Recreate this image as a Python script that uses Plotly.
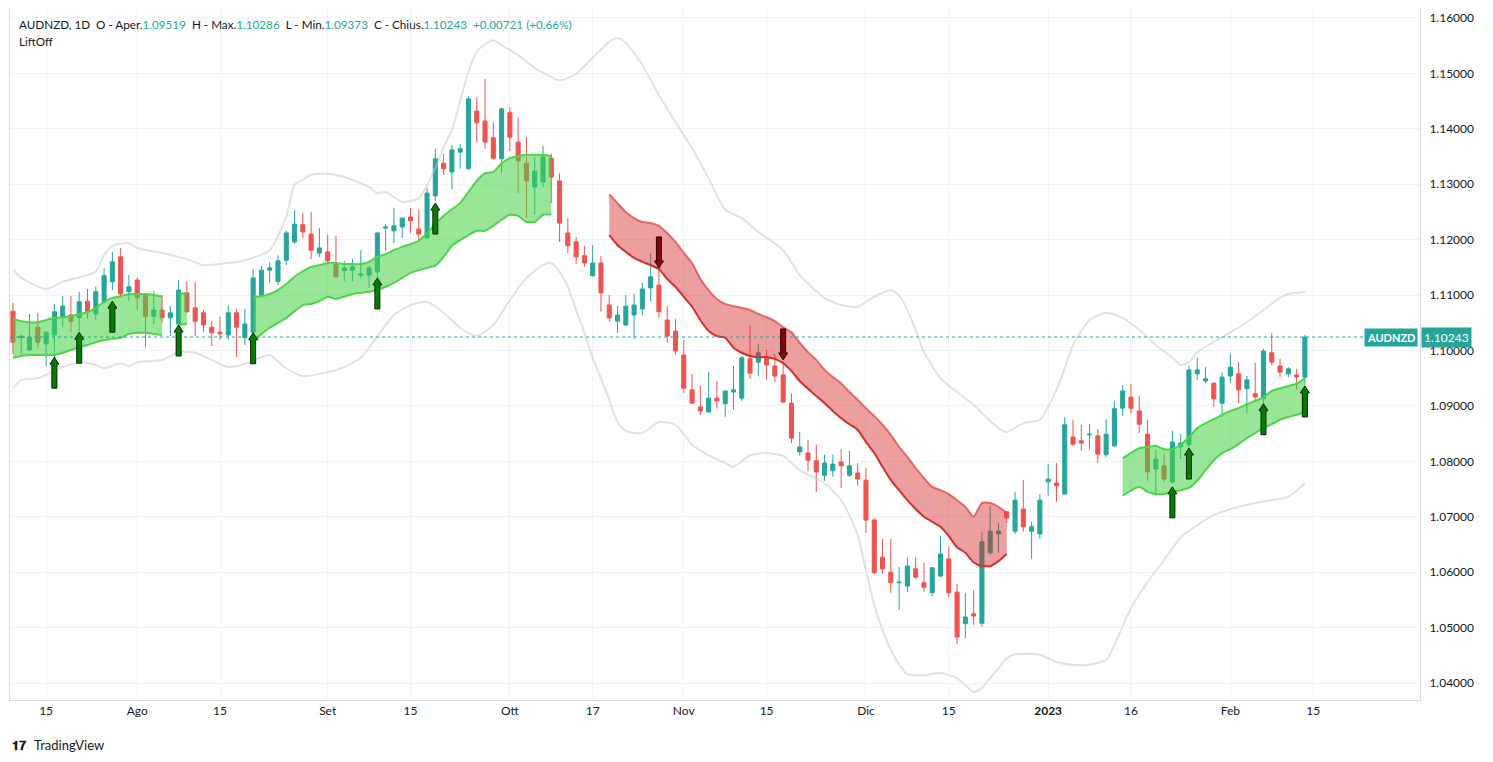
import numpy as np
import pandas as pd
import plotly.graph_objects as go

symbol = "AUDNZD"
start_date = "2022-07-11"

opens = [
    1.1071, 1.1023, 1.1001, 1.1042, 1.1012, 1.1028, 1.1061, 1.1064, 1.1059, 1.1089,
    1.1066, 1.1088, 1.1124, 1.1169, 1.1106, 1.1127, 1.1100, 1.1062, 1.1073, 1.1059,
    1.1048, 1.1104, 1.1077, 1.1068, 1.1042, 1.1033, 1.1028, 1.1068, 1.1023, 1.1033,
    1.1100, 1.1145, 1.1125, 1.1163, 1.1196, 1.1227, 1.1210, 1.1176, 1.1178, 1.1158,
    1.1144, 1.1145, 1.1136, 1.1136, 1.1142, 1.1221, 1.1216, 1.1223, 1.1241, 1.1219,
    1.1203, 1.1279, 1.1338, 1.1322, 1.1358, 1.1328, 1.1432, 1.1414, 1.1384, 1.1346,
    1.1429, 1.1376, 1.1338, 1.1295, 1.1304, 1.1347, 1.1306, 1.1212, 1.1196, 1.1171,
    1.1135, 1.1158, 1.1082, 1.1053, 1.1046, 1.1064, 1.1075, 1.1113, 1.1118, 1.1055,
    1.1035, 1.0992, 1.0929, 1.0898, 1.0889, 1.0914, 1.0904, 1.0925, 1.0914, 1.0985,
    1.0979, 1.0987, 1.0972, 1.0956, 1.0905, 1.0817, 1.0815, 1.0801, 1.0775, 1.0783,
    1.0799, 1.0775, 1.0779, 1.0766, 1.0694, 1.0627, 1.0600, 1.0581, 1.0575, 1.0606,
    1.0581, 1.0563, 1.0593, 1.0624, 1.0564, 1.0507, 1.0525, 1.0508, 1.0635, 1.0669,
    1.0709, 1.0674, 1.0714, 1.0674, 1.0669, 1.0763, 1.0761, 1.0741, 1.0844, 1.0837,
    1.0848, 1.0846, 1.0812, 1.0828, 1.0896, 1.0916, 1.0891, 1.0849, 1.0786, 1.0792,
    1.0763, 1.0826, 1.0830, 1.0958, 1.0945, 1.0941, 1.0905, 1.0954, 1.0958, 1.0931,
    1.0922, 1.0913, 1.0996, 1.0972, 1.0958, 1.0956, 1.09519]

highs = [
    1.1086, 1.1028, 1.1066, 1.1068, 1.1035, 1.1084, 1.1098, 1.1098, 1.1106, 1.1111,
    1.1115, 1.1149, 1.1178, 1.1185, 1.1136, 1.1131, 1.1102, 1.1107, 1.1100, 1.1080,
    1.1127, 1.1124, 1.1124, 1.1073, 1.1053, 1.1061, 1.1082, 1.1075, 1.1075, 1.1147,
    1.1153, 1.1160, 1.1172, 1.1216, 1.1254, 1.1248, 1.1250, 1.1221, 1.1209, 1.1207,
    1.1162, 1.1165, 1.1181, 1.1154, 1.1214, 1.1228, 1.1257, 1.1240, 1.1257, 1.1254,
    1.1293, 1.1364, 1.1355, 1.1371, 1.1373, 1.1459, 1.1456, 1.1490, 1.1412, 1.1438,
    1.1439, 1.1420, 1.1385, 1.1349, 1.1369, 1.1355, 1.1320, 1.1239, 1.1205, 1.1189,
    1.1190, 1.1171, 1.1100, 1.1080, 1.1100, 1.1102, 1.1122, 1.1176, 1.1149, 1.1080,
    1.1057, 1.1019, 1.0958, 1.0936, 1.0961, 1.0945, 1.0927, 1.0972, 1.0990, 1.1046,
    1.1012, 1.1001, 1.0994, 1.0981, 1.0922, 1.0853, 1.0839, 1.0830, 1.0812, 1.0812,
    1.0822, 1.0819, 1.0797, 1.0788, 1.0698, 1.0660, 1.0660, 1.0609, 1.0626, 1.0627,
    1.0617, 1.0609, 1.0665, 1.0646, 1.0579, 1.0563, 1.0568, 1.0673, 1.0719, 1.0689,
    1.0710, 1.0745, 1.0766, 1.0691, 1.0741, 1.0795, 1.0797, 1.0880, 1.0875, 1.0866,
    1.0867, 1.0858, 1.0876, 1.0909, 1.0938, 1.0940, 1.0918, 1.0875, 1.0821, 1.0813,
    1.0855, 1.0849, 1.0972, 1.0987, 1.0970, 1.0942, 1.0961, 1.0994, 1.0979, 1.0954,
    1.0978, 1.1003, 1.1032, 1.0985, 1.0970, 1.0967, 1.10286]

lows = [
    1.0994, 1.0994, 1.0999, 1.1005, 1.0972, 1.0988, 1.1042, 1.1033, 1.1035, 1.1057,
    1.1055, 1.1085, 1.1109, 1.1095, 1.1089, 1.1073, 1.1006, 1.1048, 1.1050, 1.1026,
    1.1046, 1.1068, 1.1026, 1.1033, 1.1008, 1.1019, 1.1019, 1.0988, 1.1010, 1.1032,
    1.1097, 1.1122, 1.1118, 1.1154, 1.1192, 1.1203, 1.1165, 1.1169, 1.1158, 1.1131,
    1.1125, 1.1125, 1.1131, 1.1113, 1.1131, 1.1180, 1.1194, 1.1203, 1.1212, 1.1198,
    1.1201, 1.1270, 1.1317, 1.1291, 1.1328, 1.1326, 1.1376, 1.1364, 1.1344, 1.1320,
    1.1360, 1.1284, 1.1239, 1.1245, 1.1295, 1.1266, 1.1196, 1.1176, 1.1156, 1.1151,
    1.1133, 1.1070, 1.1052, 1.1032, 1.1044, 1.1021, 1.1064, 1.1089, 1.1059, 1.1014,
    1.0992, 1.0923, 1.0904, 1.0884, 1.0888, 1.0895, 1.0880, 1.0893, 1.0909, 1.0949,
    1.0954, 1.0947, 1.0943, 1.0905, 1.0833, 1.0810, 1.0783, 1.0745, 1.0765, 1.0772,
    1.0752, 1.0772, 1.0756, 1.0671, 1.0597, 1.0597, 1.0563, 1.0532, 1.0564, 1.0588,
    1.0564, 1.0557, 1.0591, 1.0555, 1.0470, 1.0481, 1.0505, 1.0501, 1.0631, 1.0635,
    1.0689, 1.0669, 1.0673, 1.0624, 1.0660, 1.0738, 1.0727, 1.0741, 1.0828, 1.0819,
    1.0821, 1.0797, 1.0808, 1.0826, 1.0882, 1.0886, 1.0851, 1.0765, 1.0738, 1.0763,
    1.0759, 1.0804, 1.0824, 1.0947, 1.0941, 1.0898, 1.0880, 1.0941, 1.0905, 1.0886,
    1.0911, 1.0905, 1.0974, 1.0952, 1.0952, 1.0929, 1.09373]

closes = [
    1.1015, 1.1026, 1.1024, 1.1015, 1.1033, 1.1070, 1.1080, 1.1053, 1.1088, 1.1071,
    1.1106, 1.1135, 1.1160, 1.1102, 1.1115, 1.1095, 1.1061, 1.1073, 1.1059, 1.1068,
    1.1109, 1.1070, 1.1053, 1.1046, 1.1032, 1.1030, 1.1068, 1.1042, 1.1048, 1.1131,
    1.1145, 1.1149, 1.1162, 1.1212, 1.1228, 1.1214, 1.1181, 1.1185, 1.1162, 1.1133,
    1.1149, 1.1151, 1.1138, 1.1149, 1.1212, 1.1223, 1.1225, 1.1239, 1.1234, 1.1210,
    1.1284, 1.1346, 1.1328, 1.1362, 1.1364, 1.1454, 1.1411, 1.1376, 1.1347, 1.1436,
    1.1385, 1.1342, 1.1306, 1.1324, 1.1349, 1.1313, 1.1230, 1.1189, 1.1169, 1.1158,
    1.1158, 1.1104, 1.1059, 1.1064, 1.1080, 1.1082, 1.1111, 1.1133, 1.1070, 1.1026,
    1.0999, 1.0932, 1.0905, 1.0891, 1.0914, 1.0909, 1.0927, 1.0929, 1.0987, 1.0959,
    1.0996, 1.0974, 1.0954, 1.0907, 1.0842, 1.0826, 1.0802, 1.0781, 1.0797, 1.0795,
    1.0792, 1.0792, 1.0768, 1.0694, 1.0599, 1.0606, 1.0581, 1.0582, 1.0611, 1.0591,
    1.0573, 1.0608, 1.0633, 1.0563, 1.0483, 1.0519, 1.0521, 1.0655, 1.0674, 1.0674,
    1.0698, 1.0730, 1.0682, 1.0682, 1.0730, 1.0768, 1.0756, 1.0866, 1.0831, 1.0833,
    1.0849, 1.0813, 1.0849, 1.0895, 1.0927, 1.0896, 1.0867, 1.0781, 1.0804, 1.0768,
    1.0835, 1.0833, 1.0965, 1.0965, 1.0949, 1.0913, 1.0952, 1.0970, 1.0929, 1.0947,
    1.0916, 1.0999, 1.0979, 1.0961, 1.0967, 1.09522, 1.10243]

# Bollinger-style envelope (grey) at given bar indices
bb_up_idx = [0, 1, 4, 6, 9, 10, 11, 12, 14, 15, 18, 20, 22, 23, 26, 28, 31, 33, 34, 35,
             36, 38, 40, 43, 44, 45, 47, 49, 51, 52, 53, 55, 56, 57, 58, 59, 61, 63, 66, 68,
             70, 72, 73, 74, 76, 78, 80, 82, 84, 86, 88, 90, 93, 95, 98, 100, 102, 104, 106, 107,
             108, 109, 110, 112, 114, 116, 117, 119, 120, 122, 124, 126, 127, 128, 130, 132, 134, 136, 138, 140,
             141, 142, 143, 146, 149, 151, 153, 154, 156]
bb_up = [1.1147, 1.1131, 1.1111, 1.1124, 1.1136, 1.1142, 1.1172, 1.1189, 1.1194, 1.1185,
         1.1176, 1.1169, 1.1160, 1.1154, 1.1158, 1.1163, 1.1181, 1.1241, 1.1299, 1.1308,
         1.1317, 1.1319, 1.1313, 1.1295, 1.1284, 1.1286, 1.1268, 1.1275, 1.1329, 1.1367,
         1.1398, 1.1503, 1.1539, 1.1553, 1.1560, 1.1551, 1.1533, 1.1510, 1.1488, 1.1499,
         1.1528, 1.1557, 1.1564, 1.1555, 1.1515, 1.1461, 1.1412, 1.1365, 1.1311, 1.1254,
         1.1239, 1.1214, 1.1181, 1.1136, 1.1095, 1.1082, 1.1079, 1.1097, 1.1109, 1.1100,
         1.1073, 1.1037, 1.0997, 1.0950, 1.0925, 1.0902, 1.0887, 1.0860, 1.0853, 1.0869,
         1.0875, 1.0929, 1.0968, 1.1010, 1.1055, 1.1068, 1.1059, 1.1037, 1.1010, 1.0987,
         1.0974, 1.0979, 1.0997, 1.1024, 1.1051, 1.1073, 1.1095, 1.1102, 1.1106]

bb_lo_idx = [0, 1, 3, 6, 8, 10, 11, 13, 14, 15, 18, 20, 22, 24, 26, 28, 30, 31, 33, 35,
             38, 40, 42, 43, 46, 48, 50, 52, 54, 56, 58, 60, 62, 64, 65, 66, 67, 68, 69, 70,
             71, 72, 73, 74, 76, 78, 80, 82, 84, 86, 87, 89, 91, 93, 95, 98, 100, 101, 102, 103,
             104, 105, 106, 107, 108, 110, 112, 114, 115, 116, 117, 118, 119, 120, 121, 124, 126, 128, 130, 132,
             133, 135, 137, 139, 141, 143, 145, 148, 151, 154, 156]
bb_lo = [1.0932, 1.0947, 1.0950, 1.0970, 1.0979, 1.0974, 1.0968, 1.0977, 1.0972, 1.0979,
         1.0983, 1.0997, 1.0996, 1.0983, 1.0970, 1.0976, 1.0988, 1.0992, 1.0968, 1.0954,
         1.0961, 1.0970, 1.0987, 1.1005, 1.1064, 1.1082, 1.1088, 1.1068, 1.1041, 1.1026,
         1.1046, 1.1091, 1.1131, 1.1154, 1.1158, 1.1142, 1.1115, 1.1073, 1.1032, 1.0987,
         1.0950, 1.0911, 1.0871, 1.0855, 1.0851, 1.0871, 1.0866, 1.0830, 1.0811, 1.0797,
         1.0790, 1.0811, 1.0815, 1.0810, 1.0784, 1.0761, 1.0730, 1.0703, 1.0667, 1.0604,
         1.0541, 1.0496, 1.0460, 1.0434, 1.0416, 1.0414, 1.0418, 1.0409, 1.0396, 1.0384,
         1.0391, 1.0409, 1.0427, 1.0445, 1.0452, 1.0451, 1.0438, 1.0433, 1.0433, 1.0442,
         1.0469, 1.0535, 1.0582, 1.0622, 1.0663, 1.0685, 1.0703, 1.0718, 1.0728, 1.0736,
         1.0761]

# LiftOff channel segments: first bar index, upper edge, lower edge
lift_g1_start = 0
lift_g1_up = [1.1057, 1.1053, 1.1051, 1.1051, 1.1055, 1.1059, 1.1060, 1.1062, 1.1066, 1.1069,
              1.1077, 1.1088, 1.1095, 1.1098, 1.1102, 1.1102, 1.1102, 1.1100, 1.1097]
lift_g1_lo = [1.0987, 1.0990, 1.0992, 1.0992, 1.0992, 1.0992, 1.0996, 1.1001, 1.1006, 1.1010,
              1.1015, 1.1019, 1.1021, 1.1023, 1.1030, 1.1032, 1.1032, 1.1030, 1.1028]
lift_g1b_start = 20
lift_g1b_up = [1.1102, 1.1104]
lift_g1b_lo = [1.1046, 1.1048]
lift_g2_start = 29
lift_g2_up = [1.1097, 1.1098, 1.1102, 1.1109, 1.1120, 1.1133, 1.1143, 1.1151, 1.1154, 1.1158,
              1.1158, 1.1156, 1.1156, 1.1156, 1.1160, 1.1169, 1.1174, 1.1181, 1.1187, 1.1192,
              1.1198, 1.1212, 1.1228, 1.1243, 1.1255, 1.1266, 1.1286, 1.1306, 1.1320, 1.1322,
              1.1338, 1.1347, 1.1351, 1.1353, 1.1353, 1.1353, 1.1351]
lift_g2_lo = [1.1015, 1.1030, 1.1041, 1.1050, 1.1059, 1.1071, 1.1082, 1.1084, 1.1089, 1.1097,
              1.1093, 1.1097, 1.1102, 1.1104, 1.1106, 1.1109, 1.1115, 1.1122, 1.1131, 1.1140,
              1.1145, 1.1149, 1.1153, 1.1169, 1.1189, 1.1199, 1.1208, 1.1216, 1.1216, 1.1225,
              1.1236, 1.1245, 1.1243, 1.1232, 1.1232, 1.1245, 1.1246]
lift_r1_start = 72
lift_r1_up = [1.1282, 1.1266, 1.1250, 1.1239, 1.1232, 1.1230, 1.1225, 1.1212, 1.1196, 1.1176,
              1.1158, 1.1129, 1.1109, 1.1093, 1.1084, 1.1080, 1.1077, 1.1073, 1.1066, 1.1060,
              1.1053, 1.1042, 1.1033, 1.1014, 1.0997, 1.0983, 1.0965, 1.0952, 1.0941, 1.0925,
              1.0911, 1.0896, 1.0882, 1.0866, 1.0848, 1.0826, 1.0808, 1.0788, 1.0770, 1.0754,
              1.0748, 1.0741, 1.0730, 1.0718, 1.0700, 1.0725, 1.0725, 1.0718, 1.0707]
lift_r1_lo = [1.1208, 1.1190, 1.1178, 1.1167, 1.1160, 1.1154, 1.1147, 1.1129, 1.1115, 1.1097,
              1.1079, 1.1055, 1.1035, 1.1026, 1.1023, 1.1005, 1.0996, 1.0990, 1.0988, 1.0988,
              1.0985, 1.0977, 1.0963, 1.0945, 1.0931, 1.0918, 1.0905, 1.0891, 1.0878, 1.0867,
              1.0857, 1.0835, 1.0815, 1.0790, 1.0766, 1.0748, 1.0730, 1.0714, 1.0700, 1.0691,
              1.0682, 1.0665, 1.0645, 1.0635, 1.0618, 1.0611, 1.0611, 1.0620, 1.0633]
lift_g3_start = 134
lift_g3_up = [1.0806, 1.0815, 1.0824, 1.0826, 1.0828, 1.0822, 1.0822, 1.0830, 1.0844, 1.0860,
              1.0869, 1.0876, 1.0884, 1.0891, 1.0896, 1.0903, 1.0909, 1.0916, 1.0927, 1.0932,
              1.0936, 1.0940, 1.0950]
lift_g3_lo = [1.0738, 1.0747, 1.0754, 1.0745, 1.0741, 1.0741, 1.0745, 1.0748, 1.0752, 1.0765,
              1.0784, 1.0802, 1.0815, 1.0822, 1.0831, 1.0842, 1.0851, 1.0860, 1.0867, 1.0875,
              1.0880, 1.0884, 1.0889]

# Signal arrows: bar index and price of the arrow tip
up_arrow_idx = [5, 8, 12, 20, 29, 44, 51, 140, 142, 151, 156]
up_arrow_tip = [1.0988, 1.1033, 1.1089, 1.1046, 1.1032, 1.1131, 1.1266, 1.0754, 1.0824, 1.0904, 1.0936]
down_arrow_idx = [78, 93]
down_arrow_tip = [1.1149, 1.0983]

tick_dates = ["2022-07-15", "2022-08-01", "2022-08-15", "2022-09-01", "2022-09-15",
              "2022-10-03", "2022-10-17", "2022-11-01", "2022-11-15", "2022-12-01",
              "2022-12-15", "2023-01-02", "2023-01-16", "2023-02-01", "2023-02-15"]
tick_labels = ["15", "Ago", "15", "Set", "15", "Ott", "17", "Nov", "15", "Dic",
               "15", "<b>2023</b>", "16", "Feb", "15"]

# ------------------------------------------------------------------
UP_COL = "#26a69a"
DN_COL = "#ef5350"
TXT = "#131722"
GRID = "#f0f3fa"
FONT = "Lato, Noto Sans, sans-serif"

n = len(closes)
xs = list(range(n))
tick_pos = [int(np.busday_count(start_date, d)) for d in tick_dates]

fig = go.Figure()

band_line = dict(color="rgba(200,200,200,0.55)", width=2, shape="spline", smoothing=0.6)
fig.add_trace(go.Scatter(x=bb_up_idx, y=bb_up, mode="lines", line=band_line, hoverinfo="skip"))
fig.add_trace(go.Scatter(x=bb_lo_idx, y=bb_lo, mode="lines", line=band_line, hoverinfo="skip"))

segments = [
    (lift_g1_start, lift_g1_up, lift_g1_lo, "up"),
    (lift_g1b_start, lift_g1b_up, lift_g1b_lo, "up"),
    (lift_g2_start, lift_g2_up, lift_g2_lo, "up"),
    (lift_r1_start, lift_r1_up, lift_r1_lo, "down"),
    (lift_g3_start, lift_g3_up, lift_g3_lo, "up"),
]
for s0, up, lo, d in segments:
    sx = list(range(s0, s0 + len(up)))
    if d == "up":
        fillc = "rgba(70,210,70,0.55)"
        c_up = "#4cd44c"
        c_lo = "#4cd44c"
    else:
        fillc = "rgba(214,40,40,0.45)"
        c_up = "rgba(222,70,70,0.75)"
        c_lo = "#d32f2f"
    fig.add_trace(go.Scatter(x=sx, y=lo, mode="lines",
                             line=dict(color=c_lo, width=2, shape="spline", smoothing=0.5),
                             hoverinfo="skip"))
    fig.add_trace(go.Scatter(x=sx, y=up, mode="lines", fill="tonexty", fillcolor=fillc,
                             line=dict(color=c_up, width=2, shape="spline", smoothing=0.5),
                             hoverinfo="skip"))

fig.add_trace(go.Candlestick(
    x=xs, open=opens, high=highs, low=lows, close=closes,
    increasing=dict(line=dict(color=UP_COL, width=1), fillcolor=UP_COL),
    decreasing=dict(line=dict(color=DN_COL, width=1), fillcolor=DN_COL),
    whiskerwidth=0, hoverinfo="skip"))

# arrow glyph in pixels (tip at 0, pointing up)
HH, HW, SW, AL = 7, 4.5, 2.5, 31


def arrow_path(sign):
    pts = [(0, 0), (HW, -HH), (SW, -HH), (SW, -AL), (-SW, -AL), (-SW, -HH), (-HW, -HH)]
    return "M " + " L ".join(f"{px} {sign * py}" for px, py in pts) + " Z"


last_close = closes[-1]
shapes = [dict(type="line", xref="paper", x0=0, x1=1, yref="y", y0=last_close, y1=last_close,
               line=dict(color=UP_COL, width=1, dash="dot"))]
for i, tip in zip(up_arrow_idx, up_arrow_tip):
    shapes.append(dict(type="path", xref="x", yref="y", xsizemode="pixel", ysizemode="pixel",
                       xanchor=i, yanchor=tip, path=arrow_path(1),
                       fillcolor="#008000", line=dict(color="#0a1f0a", width=1)))
for i, tip in zip(down_arrow_idx, down_arrow_tip):
    shapes.append(dict(type="path", xref="x", yref="y", xsizemode="pixel", ysizemode="pixel",
                       xanchor=i, yanchor=tip, path=arrow_path(-1),
                       fillcolor="#8b0000", line=dict(color="#1f0505", width=1)))

chg = closes[-1] - closes[-2]
pct = chg / closes[-2] * 100
sp = "\u00a0"


def lab(t):
    return f'<span style="color:{TXT}">{t}</span>'


def val(t):
    return f'<span style="color:{UP_COL}">{t}</span>'


header = (lab(f"{symbol}, 1D{sp}{sp}O - Aper.") + val(f"{opens[-1]:.5f}") +
          lab(f"{sp}{sp}H - Max.") + val(f"{highs[-1]:.5f}") +
          lab(f"{sp}{sp}L - Min.") + val(f"{lows[-1]:.5f}") +
          lab(f"{sp}{sp}C - Chius.") + val(f"{closes[-1]:.5f}") +
          val(f"{sp}{sp}{chg:+.5f} ({pct:+.2f}%)"))

annotations = []
annotations.append(dict(x=0, y=1, xref="paper", yref="paper", xanchor="left", yanchor="middle",
                        xshift=7, yshift=-16, text=header, showarrow=False,
                        font=dict(size=11.7, color=TXT)))
annotations.append(dict(x=0, y=1, xref="paper", yref="paper", xanchor="left", yanchor="middle",
                        xshift=7, yshift=-33, text="LiftOff", showarrow=False,
                        font=dict(size=11.7, color=TXT)))

annotations.append(dict(x=1, y=last_close, xref="paper", yref="y", xanchor="right",
                        yanchor="middle", xshift=-2, text=f"<b>{symbol}</b>", showarrow=False,
                        bgcolor=UP_COL, borderpad=2, font=dict(size=11, color="white")))
annotations.append(dict(x=1, y=last_close, xref="paper", yref="y", xanchor="left",
                        yanchor="middle", xshift=1, text=f"{last_close:.5f}", showarrow=False,
                        bgcolor=UP_COL, borderpad=2, font=dict(size=12, color="white")))

annotations.append(dict(x=0, y=0, xref="paper", yref="paper", xanchor="left", yanchor="middle",
                        xshift=0, yshift=-45, text="<b>𝟏𝟕</b>", showarrow=False,
                        font=dict(size=13, color="#131722")))
annotations.append(dict(x=0, y=0, xref="paper", yref="paper", xanchor="left", yanchor="middle",
                        xshift=22, yshift=-45, text="TradingView", showarrow=False,
                        font=dict(size=13, color="#131722")))

# page body has an 8px margin: figure is sized/positioned to compensate
fig.update_layout(
    width=1485, height=754,
    margin=dict(l=2, r=73, t=0, b=62),
    paper_bgcolor="white", plot_bgcolor="white",
    showlegend=False,
    font=dict(family=FONT, color=TXT, size=12),
    annotations=annotations,
    shapes=shapes,
    xaxis=dict(range=[-0.36, 169.9], tickmode="array", tickvals=tick_pos, ticktext=tick_labels,
               showgrid=True, gridcolor=GRID, zeroline=False, rangeslider=dict(visible=False),
               showline=True, linecolor="#d6d9e0", mirror=True, ticks="",
               tickfont=dict(size=12, color=TXT)),
    yaxis=dict(side="right", range=[1.03694, 1.1618], dtick=0.01, tick0=1.0,
               tickformat=".5f", showgrid=True, gridcolor=GRID, zeroline=False,
               showline=True, linecolor="#d6d9e0", mirror=True, ticks="outside",
               ticklen=6, tickcolor="rgba(0,0,0,0)", tickfont=dict(size=12, color=TXT)),
)

fig.write_html("out.html")
